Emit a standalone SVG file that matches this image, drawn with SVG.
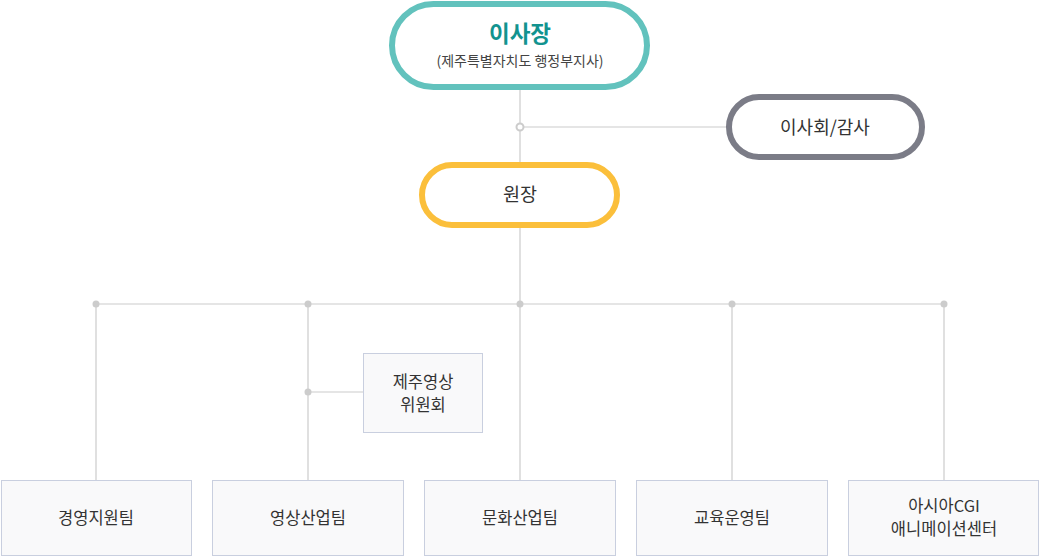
<svg xmlns="http://www.w3.org/2000/svg" width="1040" height="556" viewBox="0 0 1040 556">
<style>
text{font-family:"Noto Sans CJK KR","Noto Sans",sans-serif;text-anchor:middle;fill:#333}
.ln{stroke:#cccccc;stroke-width:1.2;fill:none}
.dot{fill:#cccccc}
.box{fill:#f9f9fa;stroke:#c9cfdf;stroke-width:1}
.t15{font-size:16.5px}
</style>
<rect width="1040" height="556" fill="#ffffff"/>
<g id="connectors">
<path class="ln" d="M520 88V480M520 127H727M96 304H944M96 304V480M308 304V480M732 304V480M944 304V480M308 392H363"/>
<circle cx="520" cy="127" r="3.5" fill="#fff" stroke="#cccccc" stroke-width="2"/>
<circle class="dot" cx="96" cy="304" r="3.5"/>
<circle class="dot" cx="308" cy="304" r="3.5"/>
<circle class="dot" cx="520" cy="304" r="3.5"/>
<circle class="dot" cx="732" cy="304" r="3.5"/>
<circle class="dot" cx="944" cy="304" r="3.5"/>
<circle class="dot" cx="308" cy="392" r="3.5"/>
</g>
<g id="chairman">
<rect x="392" y="4" width="255" height="83" rx="41.5" fill="#fff" stroke="#62c2bd" stroke-width="6"/>
<text x="520" y="42" style="font-size:22.5px;font-weight:bold;fill:#12938f">이사장</text>
<text x="520" y="66" style="font-size:14px;fill:#444">(제주특별자치도 행정부지사)</text>
</g>
<g id="board">
<rect x="729" y="97" width="193" height="60" rx="30" fill="#fff" stroke="#7b7c87" stroke-width="6"/>
<text x="825" y="134" style="font-size:18px">이사회/감사</text>
</g>
<g id="director">
<rect x="422" y="165" width="195" height="60" rx="30" fill="#fff" stroke="#fbbf3b" stroke-width="6"/>
<text x="520" y="201" style="font-size:18.5px">원장</text>
</g>
<g id="committee">
<rect class="box" x="363.5" y="353.5" width="119" height="79"/>
<text class="t15" x="423" y="388">제주영상</text>
<text class="t15" x="423" y="411">위원회</text>
</g>
<g id="team1">
<rect class="box" x="1.5" y="480.5" width="190" height="75"/>
<text class="t15" x="96" y="524">경영지원팀</text>
</g>
<g id="team2">
<rect class="box" x="212.5" y="480.5" width="191" height="75"/>
<text class="t15" x="308" y="524">영상산업팀</text>
</g>
<g id="team3">
<rect class="box" x="424.5" y="480.5" width="191" height="75"/>
<text class="t15" x="520" y="524">문화산업팀</text>
</g>
<g id="team4">
<rect class="box" x="636.5" y="480.5" width="191" height="75"/>
<text class="t15" x="732" y="524">교육운영팀</text>
</g>
<g id="team5">
<rect class="box" x="848.5" y="480.5" width="190" height="75"/>
<text class="t15" x="944" y="512">아시아CGI</text>
<text class="t15" x="944" y="535">애니메이션센터</text>
</g>
</svg>
